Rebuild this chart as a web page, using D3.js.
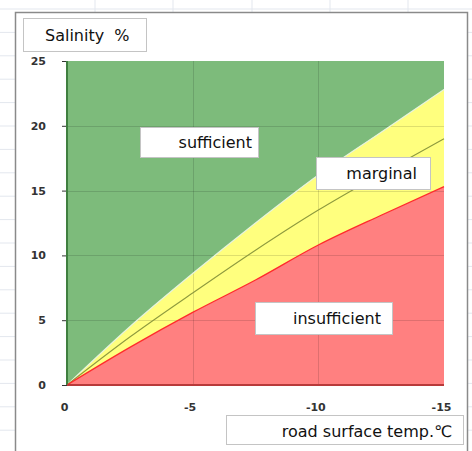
<!DOCTYPE html>
<html><head><meta charset="utf-8">
<script src="https://cdn.jsdelivr.net/npm/d3@7"></script>
<style>
html,body{margin:0;padding:0;background:#fff;}
svg{display:block;}
text{font-family:"DejaVu Sans","Noto Sans",sans-serif;white-space:pre;}
</style></head>
<body>
<svg id="chart" width="472" height="451"></svg>
<script>
// ---- data ----
const temps      = [0, -2.5, -5, -7.5, -10, -12.5, -15];
const upperLimit = [0, 4.5, 8.6, 12.5, 16.2, 19.5, 22.8];   // sufficient / marginal boundary
const middleLine = [0, 3.7, 7.1, 10.4, 13.5, 16.3, 19.0];   // centre of marginal band
const lowerLimit = [0, 2.9, 5.6, 8.1, 10.8, 13.1, 15.3];    // marginal / insufficient boundary
const xTicks = [0, -5, -10, -15];
const yTicks = [0, 5, 10, 15, 20, 25];
const yTitle = "Salinity  %";
const xTitle = "road surface temp.℃";
const zoneLabels = ["sufficient", "marginal", "insufficient"];

const svg = d3.select("#chart");
const W = 472, H = 451;

// spreadsheet background lines
const bg = svg.append("g");
for (let y = 9; y < H; y += 23.4) {
  bg.append("line").attr("x1", 0).attr("x2", W).attr("y1", y).attr("y2", y)
    .attr("stroke", "#e3e7ee").attr("stroke-width", 1);
}
[95, 173, 252, 330, 408].forEach(x => {
  bg.append("line").attr("x1", x).attr("x2", x).attr("y1", 0).attr("y2", H)
    .attr("stroke", "#e3e7ee").attr("stroke-width", 1);
});

// chart box
svg.append("rect").attr("x", 15.5).attr("y", 12.5).attr("width", 452).attr("height", 460)
  .attr("fill", "#fff").attr("stroke", "#8a8a8a").attr("stroke-width", 1.5);

const x = d3.scaleLinear().domain([0, -15]).range([67, 444]);
const y = d3.scaleLinear().domain([0, 25]).range([385, 61]);

const idx = d3.range(temps.length);
const plot = svg.append("g");

// green: above upper limit
plot.append("path").datum(idx)
  .attr("fill", "#7dbb7b")
  .attr("d", d3.area().x(i => x(temps[i])).y0(y(25)).y1(i => y(upperLimit[i])).curve(d3.curveMonotoneX));
// yellow: between limits
plot.append("path").datum(idx)
  .attr("fill", "#ffff7e")
  .attr("d", d3.area().x(i => x(temps[i])).y0(i => y(lowerLimit[i])).y1(i => y(upperLimit[i])).curve(d3.curveMonotoneX));
// red: below lower limit
plot.append("path").datum(idx)
  .attr("fill", "#ff8080")
  .attr("d", d3.area().x(i => x(temps[i])).y0(y(0)).y1(i => y(lowerLimit[i])).curve(d3.curveMonotoneX));

// gridlines
const grid = svg.append("g").attr("stroke", "#000").attr("stroke-opacity", 0.13).attr("stroke-width", 1);
yTicks.filter(v => v > 0 && v < 25).forEach(v => {
  grid.append("line").attr("x1", x(0)).attr("x2", x(-15)).attr("y1", Math.round(y(v)) + 0.5).attr("y2", Math.round(y(v)) + 0.5);
});
xTicks.filter(v => v !== 0 && v !== -15).forEach(v => {
  grid.append("line").attr("x1", Math.round(x(v)) + 0.5).attr("x2", Math.round(x(v)) + 0.5).attr("y1", y(0)).attr("y2", y(25));
});

// boundary lines
const line = arr => d3.line().x(i => x(temps[i])).y(i => y(arr[i])).curve(d3.curveMonotoneX)(idx);
svg.append("path").attr("d", line(upperLimit)).attr("fill", "none").attr("stroke", "#e6f3dc").attr("stroke-width", 1.2);
svg.append("path").attr("d", line(middleLine)).attr("fill", "none").attr("stroke", "#8e9a3e").attr("stroke-width", 1.1);
svg.append("path").attr("d", line(lowerLimit)).attr("fill", "none").attr("stroke", "#ff2b2b").attr("stroke-width", 1.3);

// axes
const yAxis = svg.append("g").attr("transform", `translate(${x(0)},0)`)
  .call(d3.axisLeft(y).tickValues(yTicks).tickSize(5).tickPadding(16).tickFormat(d3.format("d")));
yAxis.select(".domain").remove();
yAxis.selectAll(".tick line").attr("stroke", "#333");
yAxis.selectAll("text").attr("font-size", 11).attr("fill", "#333").attr("font-weight", "bold");

const xAxis = svg.append("g").attr("transform", `translate(0,${y(0)})`)
  .call(d3.axisBottom(x).tickValues(xTicks).tickSize(0).tickPadding(18).tickFormat(d => d === 0 ? "0" : "-" + Math.abs(d)));
xAxis.select(".domain").remove();
xAxis.selectAll("text").attr("font-size", 11).attr("fill", "#333").attr("font-weight", "bold").attr("dx", -3);

svg.append("line").attr("x1", x(0)).attr("x2", x(0)).attr("y1", y(25)).attr("y2", y(0))
  .attr("stroke", "#3f7f3f").attr("stroke-width", 2);
svg.append("line").attr("x1", x(0)).attr("x2", x(-15)).attr("y1", y(0)).attr("y2", y(0))
  .attr("stroke", "#b83a3a").attr("stroke-width", 2);

// text boxes
function box(bx, by, bw, bh, txt, tx, ty, anchor) {
  svg.append("rect").attr("x", bx + 0.5).attr("y", by + 0.5).attr("width", bw).attr("height", bh)
    .attr("fill", "#fff").attr("stroke", "#c4c4c4").attr("stroke-width", 1);
  svg.append("text").attr("x", tx).attr("y", ty).attr("text-anchor", anchor)
    .attr("font-size", 16).attr("fill", "#111").text(txt);
}
box(23, 18, 123, 33, yTitle, 45, 41, "start");
box(226, 415, 237, 29, xTitle, 452, 437, "end");
box(140, 127, 118, 30, zoneLabels[0], 252, 148, "end");
box(316, 157, 114, 32, zoneLabels[1], 417, 179, "end");
box(255, 302, 137, 32, zoneLabels[2], 381, 324, "end");
</script>
</body></html>
